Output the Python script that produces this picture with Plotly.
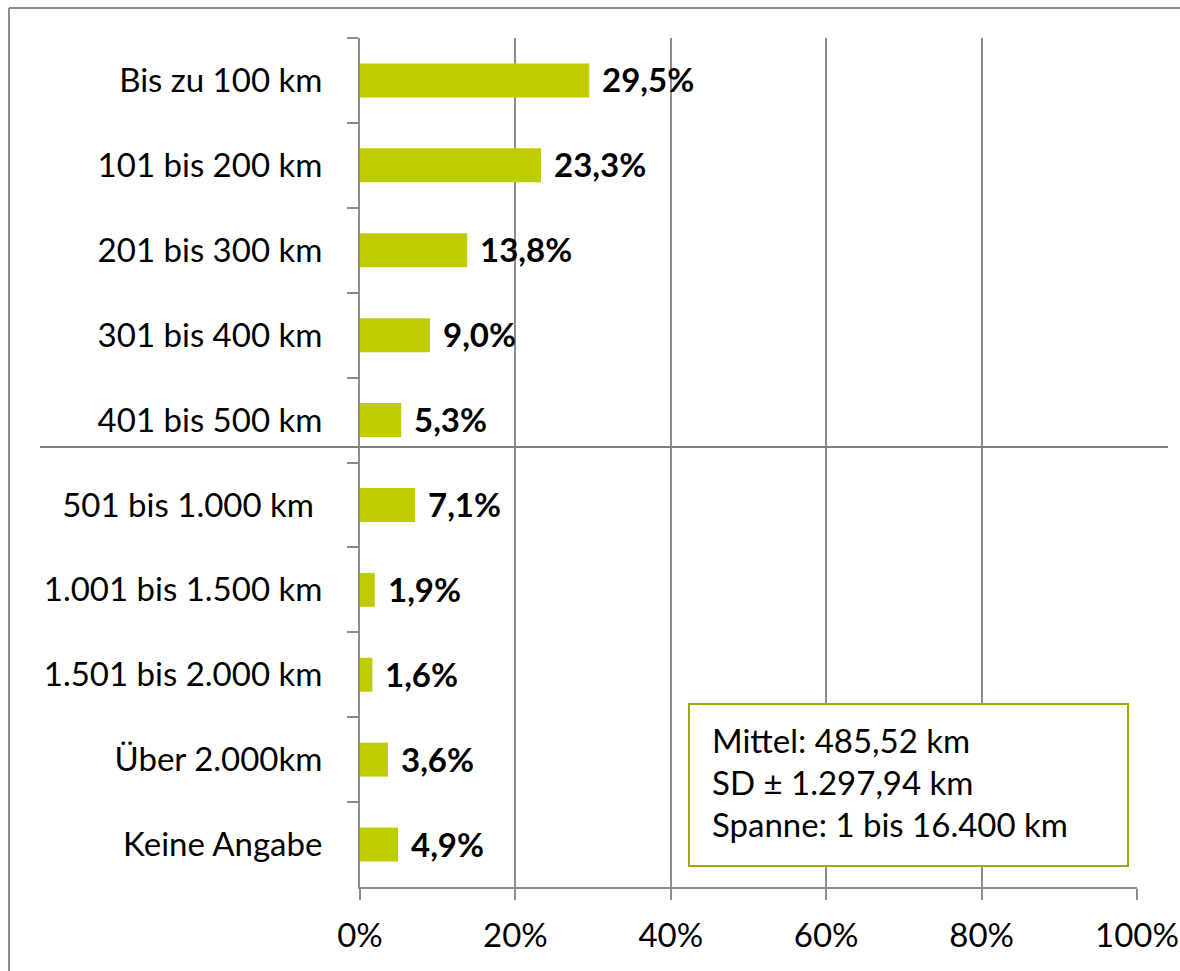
import plotly.graph_objects as go

categories = ["Bis zu 100 km", "101 bis 200 km", "201 bis 300 km", "301 bis 400 km",
              "401 bis 500 km", "501 bis 1.000 km\u00a0", "1.001 bis 1.500 km",
              "1.501 bis 2.000 km", "Über 2.000km", "Keine Angabe"]
values = [29.5, 23.3, 13.8, 9.0, 5.3, 7.1, 1.9, 1.6, 3.6, 4.9]
value_labels = ["29,5%", "23,3%", "13,8%", "9,0%", "5,3%", "7,1%", "1,9%", "1,6%", "3,6%", "4,9%"]
x_ticks = [0, 20, 40, 60, 80, 100]
x_tick_labels = ["0%", "20%", "40%", "60%", "80%", "100%"]
stats_lines = ["Mittel: 485,52 km", "SD \u00b1 1.297,94 km", "Spanne: 1 bis 16.400 km"]

FONT = "Lato, Carlito, Calibri, sans-serif"
FS = 33
GRAY = "#8c8c8c"
BAR = "#BFCC00"

W, H = 1180, 971
L, R, T, B = 360, 43, 38, 84
pw, ph = W - L - R, H - T - B

def px(x):
    return (x - L) / pw

def py(y):
    return (H - B - y) / ph

fig = go.Figure()
fig.add_trace(go.Bar(
    x=values, y=categories, orientation="h",
    marker=dict(color=BAR, line=dict(width=0)),
    width=0.4, hoverinfo="skip",
))

annotations = []
for c, v, t in zip(categories, values, value_labels):
    annotations.append(dict(x=v, y=c, xref="x", yref="y", text="<b>" + t + "</b>",
                            showarrow=False, xanchor="left", yanchor="middle",
                            xshift=11, yshift=1,
                            font=dict(family=FONT, size=FS, color="black")))

for i, line in enumerate(stats_lines):
    annotations.append(dict(x=px(710), y=py(740 + i * 42), xref="paper", yref="paper",
                            text=line, showarrow=False, xanchor="left", yanchor="middle",
                            font=dict(family=FONT, size=FS, color="black")))

shapes = [
    # outer chart border (only top and left edges visible)
    dict(type="line", xref="paper", yref="paper", x0=px(9), x1=px(1180),
         y0=py(8), y1=py(8), line=dict(color=GRAY, width=2), layer="below"),
    dict(type="line", xref="paper", yref="paper", x0=px(9), x1=px(9),
         y0=py(8), y1=py(971), line=dict(color=GRAY, width=2), layer="below"),
    # separator line
    dict(type="line", xref="paper", yref="paper", x0=px(40), x1=px(1168),
         y0=py(447), y1=py(447), line=dict(color="#7f7f7f", width=2)),
    # stats box
    dict(type="rect", xref="paper", yref="paper", x0=px(689), x1=px(1128),
         y0=py(866), y1=py(704), line=dict(color="#9DAB0A", width=2),
         fillcolor="white"),
]

fig.update_layout(
    width=W, height=H,
    margin=dict(l=L, r=R, t=T, b=B, autoexpand=False),
    paper_bgcolor="white", plot_bgcolor="white",
    showlegend=False,
    font=dict(family=FONT, size=FS, color="black"),
    annotations=annotations, shapes=shapes,
)
fig.update_xaxes(
    range=[0, 100], tickvals=x_ticks, ticktext=x_tick_labels,
    showgrid=True, gridcolor=GRAY, gridwidth=2,
    showline=True, linecolor=GRAY, linewidth=2,
    ticks="outside", ticklen=11, tickwidth=2, tickcolor=GRAY,
    ticklabelstandoff=7, zeroline=False, automargin=False,
    tickfont=dict(family=FONT, size=FS, color="black"),
)
fig.update_yaxes(
    categoryorder="array", categoryarray=categories, autorange="reversed",
    showgrid=False, showline=True, linecolor=GRAY, linewidth=2,
    ticks="outside", ticklen=11, tickwidth=2, tickcolor=GRAY,
    tickson="boundaries", ticklabelstandoff=29, automargin=False,
    tickfont=dict(family=FONT, size=FS, color="black"),
)

fig.write_html(
    "out.html",
    config={"responsive": False, "displayModeBar": False},
    post_script="document.body.style.margin='0';document.body.style.overflow='hidden';",
)
